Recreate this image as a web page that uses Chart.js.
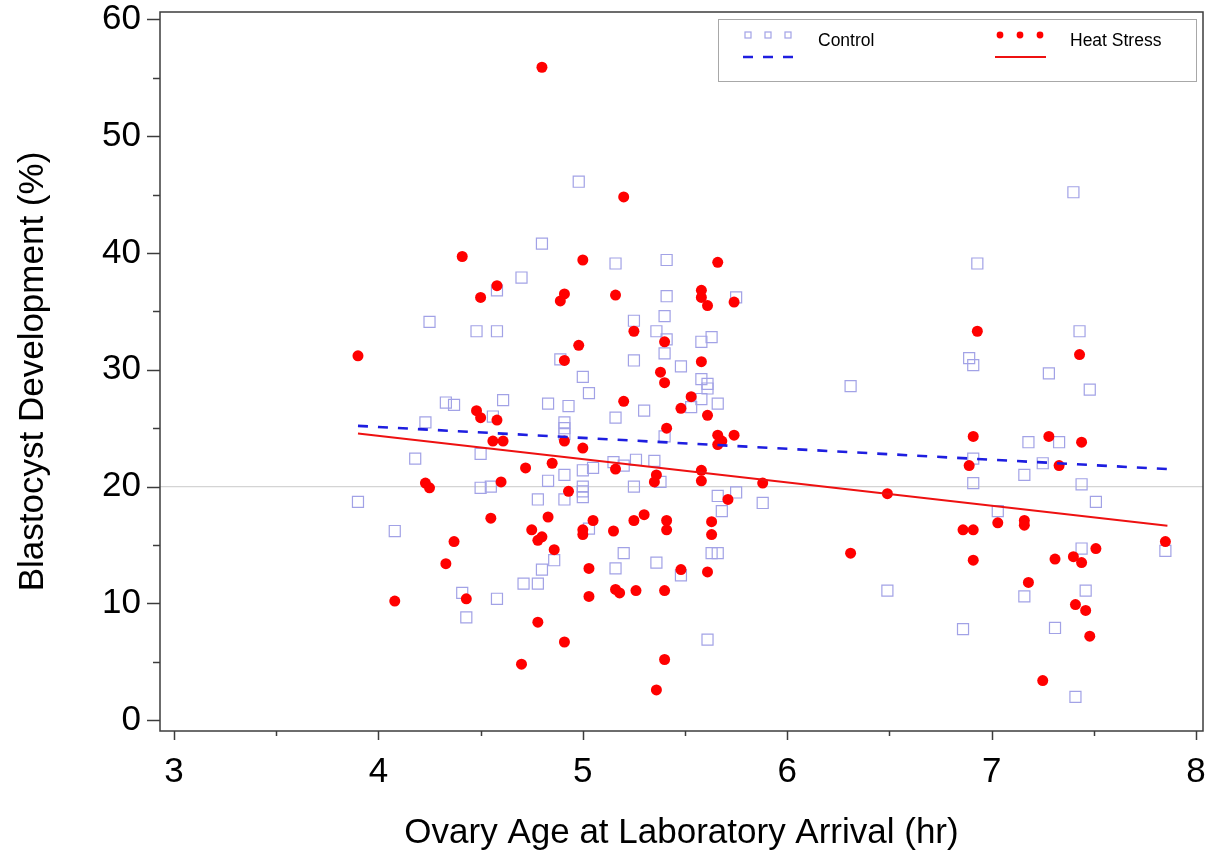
<!DOCTYPE html>
<html><head><meta charset="utf-8">
<script src="https://cdn.jsdelivr.net/npm/chart.js@4.4.1/dist/chart.umd.min.js"></script>
<style>html,body{margin:0;padding:0;background:#fff;}canvas{display:block}</style>
</head><body>
<canvas id="c" width="1217" height="859"></canvas>
<script>
// ---- data ----
const seriesNames = ['Control', 'Heat Stress'];
const xLabel = 'Ovary Age at Laboratory Arrival (hr)';
const yLabel = 'Blastocyst Development (%)';
const xTicks = [3, 3.5, 4, 4.5, 5, 5.5, 6, 6.5, 7, 7.5, 8];
const yTicks = [0, 5, 10, 15, 20, 25, 30, 35, 40, 45, 50, 55, 60];
const refY = 20;

const controlX = [3.90,4.08,4.18,4.23,4.25,4.33,4.37,4.41,4.43,4.48,4.50,4.50,4.55,4.56,4.58,4.58,4.58,4.61,4.70,4.71,4.78,4.78,4.80,4.80,4.83,4.83,4.86,4.89,4.91,4.91,4.91,4.91,4.91,4.93,4.98,5.00,5.00,5.00,5.00,5.00,5.03,5.03,5.05,5.15,5.16,5.16,5.16,5.20,5.20,5.25,5.25,5.25,5.26,5.30,5.35,5.36,5.36,5.38,5.40,5.40,5.40,5.41,5.41,5.41,5.48,5.48,5.53,5.58,5.58,5.58,5.61,5.61,5.61,5.63,5.63,5.66,5.66,5.66,5.68,5.75,5.75,5.88,6.31,6.49,6.86,6.89,6.91,6.91,6.91,6.93,7.03,7.16,7.16,7.18,7.25,7.28,7.31,7.33,7.40,7.41,7.43,7.44,7.44,7.46,7.48,7.51,7.85];
const controlY = [18.7,16.2,22.4,25.5,34.1,27.2,27.0,10.9,8.8,33.3,22.8,19.9,20.0,26.0,36.8,33.3,10.4,27.4,37.9,11.7,11.7,18.9,40.8,12.9,27.1,20.5,13.7,30.9,25.5,25.0,24.5,21.0,18.9,26.9,46.1,29.4,21.4,20.0,19.6,19.1,28.0,16.4,21.6,22.1,39.1,25.9,13.0,21.8,14.3,34.2,30.8,20.0,22.3,26.5,22.2,33.3,13.5,20.4,34.6,31.4,24.3,39.4,36.3,32.6,30.3,12.4,26.8,32.4,29.2,27.5,28.8,28.4,6.9,32.8,14.3,27.1,19.2,14.3,17.9,36.2,19.5,18.6,28.6,11.1,7.8,31.0,30.4,22.4,20.3,39.1,17.9,21.0,10.6,23.8,22.0,29.7,7.9,23.8,45.2,2.0,33.3,20.2,14.7,11.1,28.3,18.7,14.5];

const heatX = [3.90,4.08,4.23,4.25,4.33,4.37,4.41,4.43,4.48,4.50,4.50,4.55,4.56,4.58,4.58,4.60,4.61,4.70,4.72,4.75,4.78,4.78,4.80,4.80,4.83,4.85,4.86,4.89,4.91,4.91,4.91,4.91,4.93,4.98,5.00,5.00,5.00,5.00,5.03,5.03,5.05,5.15,5.16,5.16,5.16,5.18,5.20,5.20,5.25,5.25,5.26,5.30,5.35,5.36,5.36,5.38,5.40,5.40,5.40,5.40,5.41,5.41,5.41,5.48,5.48,5.53,5.58,5.58,5.58,5.58,5.58,5.61,5.61,5.61,5.63,5.63,5.66,5.66,5.68,5.66,5.71,5.74,5.74,5.88,6.31,6.49,6.86,6.89,6.91,6.91,6.91,6.93,7.03,7.16,7.16,7.18,7.25,7.28,7.31,7.33,7.40,7.41,7.43,7.44,7.44,7.46,7.48,7.51,7.85];
const heatY = [31.2,10.2,20.3,19.9,13.4,15.3,39.7,10.4,26.5,25.9,36.2,17.3,23.9,37.2,25.7,20.4,23.9,4.8,21.6,16.3,15.4,8.4,15.7,55.9,17.4,22.0,14.6,35.9,36.5,30.8,23.9,6.7,19.6,32.1,39.4,23.3,16.3,15.9,13.0,10.6,17.1,16.2,36.4,21.5,11.2,10.9,44.8,27.3,33.3,17.1,11.1,17.6,20.4,21.0,2.6,29.8,32.4,28.9,11.1,5.2,25.0,17.1,16.3,26.7,12.9,27.7,36.8,36.2,30.7,21.4,20.5,35.5,26.1,12.7,17.0,15.9,39.2,24.4,23.9,23.6,18.9,35.8,24.4,20.3,14.3,19.4,16.3,21.8,24.3,16.3,13.7,33.3,16.9,17.1,16.7,11.8,3.4,24.3,13.8,21.8,14.0,9.9,31.3,23.8,13.5,9.4,7.2,14.7,15.3];

const fitX = [3.90, 7.86];
const controlFitY = [25.2, 21.5];
const heatFitY = [24.55, 16.65];

// ---- build ----
const pts = (xs, ys) => xs.map((v, i) => ({x: v, y: ys[i]}));
const X_MIN = 2.9315, X_MAX = 8.034, Y_MIN = -0.92, Y_MAX = 60.63;
const FONT = '"Liberation Sans", Arial, Helvetica, sans-serif';
const C_SQ = '#a2a2e6', C_RED = '#ff0000', C_BLUE = '#1e1ee0', C_LINE_RED = '#ee1111';

const framePlugin = {
  id: 'frame',
  afterDraw(chart) {
    const {ctx, chartArea: a, scales: {x, y}} = chart;
    ctx.save();
    ctx.strokeStyle = '#3c3c3c';
    ctx.lineWidth = 1.5;
    ctx.strokeRect(a.left, a.top, a.right - a.left, a.bottom - a.top);
    x.ticks.forEach(t => {
      const px = Math.round(x.getPixelForValue(t.value)) + 0.5;
      const len = Number.isInteger(t.value) ? 9 : 5;
      ctx.beginPath(); ctx.moveTo(px, a.bottom); ctx.lineTo(px, a.bottom + len); ctx.stroke();
    });
    y.ticks.forEach(t => {
      const py = Math.round(y.getPixelForValue(t.value)) + 0.5;
      const len = t.value % 10 === 0 ? 13 : 7;
      ctx.beginPath(); ctx.moveTo(a.left, py); ctx.lineTo(a.left - len, py); ctx.stroke();
    });
    // legend
    const L = {x: 718.5, y: 19.5, w: 478, h: 62};
    ctx.fillStyle = '#fff';
    ctx.fillRect(L.x, L.y, L.w, L.h);
    ctx.strokeStyle = '#a8a8a8'; ctx.lineWidth = 1;
    ctx.strokeRect(L.x, L.y, L.w, L.h);
    ctx.strokeStyle = C_SQ; ctx.lineWidth = 1.2;
    [748, 768, 788].forEach(cx => ctx.strokeRect(cx - 3, 35 - 3, 6, 6));
    ctx.strokeStyle = C_BLUE; ctx.lineWidth = 2.5; ctx.setLineDash([10, 10]);
    ctx.beginPath(); ctx.moveTo(743, 57); ctx.lineTo(795, 57); ctx.stroke();
    ctx.setLineDash([]);
    ctx.fillStyle = C_RED;
    [1000, 1020, 1040].forEach(cx => { ctx.beginPath(); ctx.arc(cx, 35, 3.4, 0, Math.PI * 2); ctx.fill(); });
    ctx.strokeStyle = C_LINE_RED; ctx.lineWidth = 2;
    ctx.beginPath(); ctx.moveTo(995, 57); ctx.lineTo(1046, 57); ctx.stroke();
    ctx.fillStyle = '#000';
    ctx.font = '17.5px ' + FONT;
    ctx.textBaseline = 'middle'; ctx.textAlign = 'left';
    ctx.fillText(seriesNames[0], 818, 41);
    ctx.fillText(seriesNames[1], 1070, 41);
    ctx.restore();
  }
};

new Chart(document.getElementById('c'), {
  type: 'scatter',
  data: {
    datasets: [
      {label: 'ref', data: [{x: X_MIN, y: refY}, {x: X_MAX, y: refY}], showLine: true, borderColor: '#d4d4d4', borderWidth: 1.2, pointRadius: 0, order: 6},
      {label: seriesNames[0], data: pts(controlX, controlY), pointStyle: 'rect', pointRadius: 7.8, pointBorderWidth: 1.2, borderColor: C_SQ, backgroundColor: 'rgba(0,0,0,0)', order: 5},
      {label: seriesNames[1], data: pts(heatX, heatY), pointStyle: 'circle', pointRadius: 5.5, pointBorderWidth: 0, borderColor: C_RED, backgroundColor: C_RED, order: 4},
      {label: seriesNames[0] + ' fit', data: pts(fitX, controlFitY), showLine: true, borderColor: C_BLUE, borderWidth: 2.6, borderDash: [10, 10], pointRadius: 0, order: 2},
      {label: seriesNames[1] + ' fit', data: pts(fitX, heatFitY), showLine: true, borderColor: C_LINE_RED, borderWidth: 2, pointRadius: 0, order: 1}
    ]
  },
  options: {
    responsive: false, animation: false, devicePixelRatio: 1,
    layout: {padding: {top: 12, right: 14, left: 0, bottom: 0}},
    plugins: {legend: {display: false}, tooltip: {enabled: false}},
    scales: {
      x: {
        type: 'linear', min: X_MIN, max: X_MAX,
        afterBuildTicks: s => { s.ticks = xTicks.map(v => ({value: v})); },
        afterFit: s => { s.height = 128; s.paddingLeft = 0; s.paddingRight = 0; },
        grid: {display: false, drawTicks: false},
        border: {display: false},
        ticks: {autoSkip: false, maxRotation: 0, padding: 20, color: '#000', font: {family: FONT, size: 35},
          callback: v => Number.isInteger(v) ? String(v) : ''},
        title: {display: true, text: xLabel, color: '#000', font: {family: FONT, size: 35}, padding: {top: 0, bottom: 5}}
      },
      y: {
        type: 'linear', min: Y_MIN, max: Y_MAX,
        afterBuildTicks: s => { s.ticks = yTicks.map(v => ({value: v})); },
        afterFit: s => { s.width = 160; s.paddingTop = 0; s.paddingBottom = 0; },
        grid: {display: false, drawTicks: false},
        border: {display: false},
        ticks: {autoSkip: false, padding: 19, color: '#000', font: {family: FONT, size: 35},
          callback: v => v % 10 === 0 ? String(v) : ''},
        title: {display: true, text: yLabel, color: '#000', font: {family: FONT, size: 35}, padding: {top: 12, bottom: 0}}
      }
    }
  },
  plugins: [framePlugin]
});
</script>
</body></html>
